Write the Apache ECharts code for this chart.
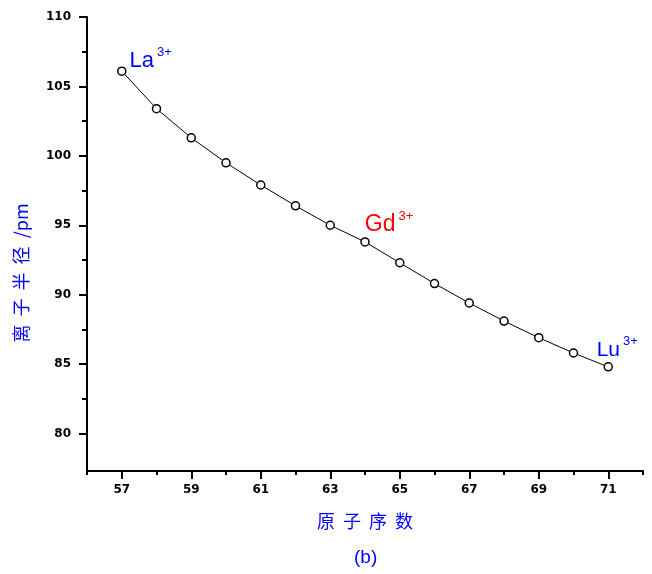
<!DOCTYPE html>
<html>
<head>
<meta charset="utf-8">
<script src="https://cdn.jsdelivr.net/npm/echarts@6/dist/echarts.min.js"></script>
<style>html,body{margin:0;padding:0;background:#fff;}#main{width:652px;height:574px;}</style>
</head>
<body>
<div id="main"></div>
<script>
// ---- data ----
var atomicNumbers = [57, 58, 59, 60, 61, 62, 63, 64, 65, 66, 67, 68, 69, 70, 71];
var ionicRadii = [106.1, 103.4, 101.3, 99.5, 97.9, 96.4, 95.0, 93.8, 92.3, 90.8, 89.4, 88.1, 86.9, 85.8, 84.8];
var xMajorTicks = [57, 59, 61, 63, 65, 67, 69, 71];
var xMinorTicks = [56, 57, 58, 59, 60, 61, 62, 63, 64, 65, 66, 67, 68, 69, 70, 71, 72];
var yMajorTicks = [80, 85, 90, 95, 100, 105, 110];
var yMinorTicks = [82.5, 87.5, 92.5, 97.5, 102.5, 107.5];
var ionNames = ['La', 'Gd', 'Lu'];
var ionAtomicNumbers = [57, 64, 71];
var ionCharge = '3+';
var xTitle = '原  子  序  数';
var yTitle = '离  子  半  径  /pm';
var panelLabel = '(b)';

// ---- styles ----
var ionStyles = {
  La: {color: '#0000ff', position: 'right', offset: [-2, -12], fs: 22},
  Gd: {color: '#ff0000', position: 'top', offset: [24, 4], fs: 23},
  Lu: {color: '#0000ff', position: 'top', offset: [9, 4], fs: 21}
};

var seriesData = atomicNumbers.map(function (x, i) {
  var item = {value: [x, ionicRadii[i]]};
  var k = ionAtomicNumbers.indexOf(x);
  if (k >= 0) {
    var name = ionNames[k];
    var st = ionStyles[name];
    item.label = {
      show: true,
      position: st.position,
      offset: st.offset,
      distance: 5,
      formatter: '{m|' + name + '}{s|' + ionCharge + '}',
      rich: {
        m: {fontFamily: 'Liberation Sans', fontSize: st.fs, color: st.color, lineHeight: 26, verticalAlign: 'bottom'},
        s: {fontFamily: 'Liberation Sans', fontSize: 13, color: st.color, lineHeight: 26, verticalAlign: 'top', padding: [0, 0, 0, 3]}
      }
    };
  }
  return item;
});

var tickFont = {fontFamily: 'DejaVu Sans', fontSize: 12, fontWeight: 'bold', color: '#000'};
var chart = echarts.init(document.getElementById('main'), null, {renderer: 'canvas'});
chart.setOption({
  animation: false,
  backgroundColor: '#fff',
  title: {
    text: panelLabel, left: 349, top: 543,
    textStyle: {fontFamily: 'Liberation Sans', fontSize: 19, fontWeight: 'normal', color: '#0000ff'}
  },
  grid: {left: 87, top: 17, right: 9, bottom: 103, containLabel: false},
  xAxis: [{
    type: 'value', min: 56, max: 72, position: 'bottom',
    name: xTitle, nameLocation: 'middle', nameGap: 41,
    nameTextStyle: {fontFamily: 'Noto Sans CJK SC', fontSize: 18, color: '#0000ff'},
    axisLine: {show: true, lineStyle: {color: '#000', width: 2}},
    axisTick: {show: true, length: 8, lineStyle: {color: '#000', width: 2}, customValues: xMajorTicks},
    axisLabel: Object.assign({margin: 13, customValues: xMajorTicks}, tickFont),
    splitLine: {show: false}
  }, {
    type: 'value', min: 56, max: 72, position: 'bottom',
    axisLine: {show: false},
    axisTick: {show: true, length: 4, lineStyle: {color: '#000', width: 2}, customValues: xMinorTicks},
    axisLabel: {show: false},
    splitLine: {show: false}
  }],
  yAxis: [{
    type: 'value', min: 77.3, max: 110, position: 'left',
    name: yTitle, nameLocation: 'middle', nameGap: 57, nameRotate: 90,
    nameTextStyle: {fontFamily: 'Noto Sans CJK SC', fontSize: 18, color: '#0000ff', padding: [0, 58, 0, 0]},
    axisLine: {show: true, lineStyle: {color: '#000', width: 2}},
    axisTick: {show: true, length: 8, lineStyle: {color: '#000', width: 2}, customValues: yMajorTicks},
    axisLabel: Object.assign({margin: 16, customValues: yMajorTicks}, tickFont),
    splitLine: {show: false}
  }, {
    type: 'value', min: 77.3, max: 110, position: 'left',
    axisLine: {show: false},
    axisTick: {show: true, length: 5, lineStyle: {color: '#000', width: 2}, customValues: yMinorTicks},
    axisLabel: {show: false},
    splitLine: {show: false}
  }],
  series: [{
    type: 'line',
    xAxisIndex: 0, yAxisIndex: 0,
    data: seriesData,
    symbol: 'circle', symbolSize: 8,
    itemStyle: {color: '#fff', borderColor: '#000', borderWidth: 1.5},
    lineStyle: {color: '#000', width: 1},
    label: {show: false},
    emphasis: {disabled: true}
  }]
});
</script>
</body>
</html>
